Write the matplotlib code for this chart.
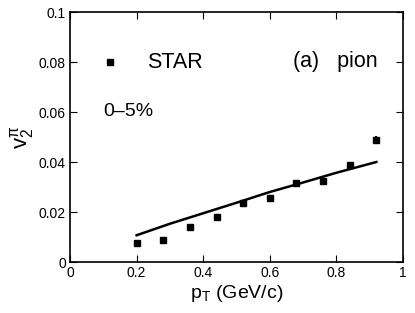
import matplotlib
matplotlib.use('Agg')
import matplotlib.pyplot as plt

plt.rcParams['font.family'] = ['Liberation Sans', 'DejaVu Sans']

# STAR data, 0-5% centrality, pion v2
pt_star = [0.2, 0.28, 0.36, 0.44, 0.52, 0.6, 0.68, 0.76, 0.84, 0.92]
v2_star = [0.0077, 0.0088, 0.014, 0.018, 0.0235, 0.0255, 0.0316, 0.0324, 0.0387, 0.049]
v2_err = [0.0004, 0.0004, 0.0004, 0.0004, 0.0005, 0.0005, 0.0006, 0.0007, 0.0012, 0.0015]

# model curve
pt_model = [0.2, 0.3, 0.4, 0.5, 0.6, 0.7, 0.8, 0.92]
v2_model = [0.0107, 0.0153, 0.0195, 0.0237, 0.0280, 0.0318, 0.0357, 0.040]

fig = plt.figure(figsize=(4.15, 3.13), dpi=100)
ax = fig.add_axes([70/415, 1 - 262/313, 333/415, 250/313])

ax.errorbar(pt_star, v2_star, yerr=v2_err, fmt='s', color='black', ms=5, capsize=0, elinewidth=1.5)
ax.plot(pt_model, v2_model, color='black', lw=1.8)

ax.plot([0.12], [0.08], 's', color='black', ms=5)
ax.text(0.232, 0.08, 'STAR', fontsize=15.5, va='center')
ax.text(0.67, 0.08, '(a)   pion', fontsize=15.5, va='center')
ax.text(0.1, 0.06, '0\u20135%', fontsize=14, va='center')

ax.set_xlim(0, 1)
ax.set_ylim(0, 0.1)
ax.set_xticks([0, 0.2, 0.4, 0.6, 0.8, 1])
ax.set_xticklabels(['0', '0.2', '0.4', '0.6', '0.8', '1'])
ax.set_yticks([0, 0.02, 0.04, 0.06, 0.08, 0.1])
ax.set_yticklabels(['0', '0.02', '0.04', '0.06', '0.08', '0.1'])
ax.tick_params(direction='in', top=True, right=True, labelsize=10, length=5, pad=3)
for s in ax.spines.values():
    s.set_linewidth(1.2)

ax.set_xlabel(r'p$_\mathregular{T}$ (GeV/c)', fontsize=14, labelpad=2)
ax.set_ylabel(r'v$_\mathregular{2}^\mathregular{\pi}$', fontsize=16, labelpad=2)

fig.savefig('out.png', dpi=100)
